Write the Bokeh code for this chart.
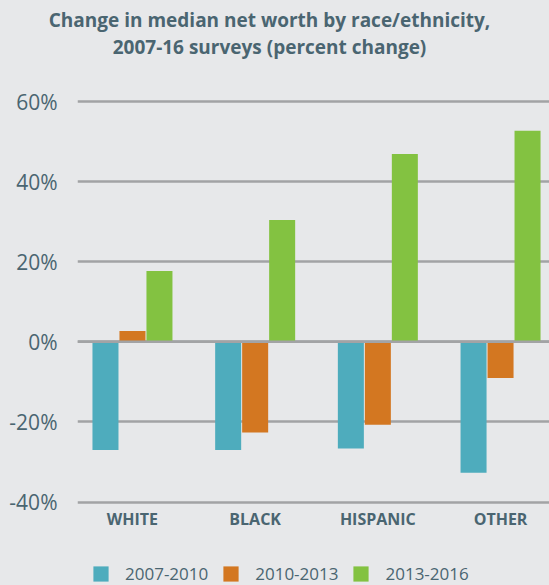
from bokeh.plotting import figure
from bokeh.layouts import column
from bokeh.models import (ColumnDataSource, Range1d, FixedTicker, PrintfTickFormatter,
                          Legend, LegendItem, Span, Div)
from bokeh.transform import dodge
from bokeh.embed import file_html
from bokeh.resources import INLINE

title_lines = ["Change in median net worth by race/ethnicity,", "2007-16 surveys (percent change)"]
categories = ["WHITE", "BLACK", "HISPANIC", "OTHER"]
series = ["2007-2010", "2010-2013", "2013-2016"]
v_2007_2010 = [-27.0, -27.0, -26.6, -32.7]
v_2010_2013 = [2.7, -22.6, -20.7, -9.0]
v_2013_2016 = [17.7, 30.4, 46.9, 52.7]
y_ticks = [-40, -20, 0, 20, 40, 60]
colors = ["#4eacbd", "#d37721", "#83c241"]

FONT = "Open Sans"
TEXT_COLOR = "#4a6571"
BG = "#e7e8ea"
GRID = "#a2a3a5"

title = Div(
    text=("<div style=\"font-family:'Open Sans';font-weight:bold;font-size:19px;"
          "line-height:26.6px;text-align:center;color:%s;padding-top:7px;"
          "padding-right:5px;width:544px;\">%s<br>%s</div>") % (TEXT_COLOR, title_lines[0], title_lines[1]),
    width=549, height=61, margin=0,
    styles={"background-color": BG},
)

xs = list(range(len(categories)))
src = ColumnDataSource(dict(x=xs, a=v_2007_2010, b=v_2010_2013, c=v_2013_2016))

p = figure(width=549, height=473, output_backend="svg", toolbar_location=None,
           x_range=Range1d(-0.448, 3.399), y_range=Range1d(-40.6, 62),
           min_border_left=77, min_border_right=0, min_border_top=32, min_border_bottom=30)
p.title = None
p.background_fill_color = None
p.border_fill_color = BG
p.outline_line_color = None
p.margin = 0

w = 0.212
off = 0.22
r1 = p.vbar(x=dodge("x", -off, range=p.x_range), top="a", width=w, source=src,
            fill_color=colors[0], line_color=None)
r2 = p.vbar(x=dodge("x", 0, range=p.x_range), top="b", width=w, source=src,
            fill_color=colors[1], line_color=None)
r3 = p.vbar(x=dodge("x", off, range=p.x_range), top="c", width=w, source=src,
            fill_color=colors[2], line_color=None)

p.add_layout(Span(location=0, dimension="width", line_color=GRID, line_width=2.5))

p.xgrid.grid_line_color = None
p.ygrid.grid_line_color = GRID
p.ygrid.grid_line_width = 2.5
p.ygrid.ticker = FixedTicker(ticks=y_ticks)

p.yaxis.ticker = FixedTicker(ticks=y_ticks)
p.yaxis.formatter = PrintfTickFormatter(format="%d%%")
p.yaxis.axis_line_color = None
p.yaxis.major_tick_line_color = None
p.yaxis.minor_tick_line_color = None
p.yaxis.major_tick_out = 0
p.yaxis.major_tick_in = 0
p.yaxis.minor_tick_out = 0
p.yaxis.major_label_text_font = FONT
p.yaxis.major_label_text_font_size = "21px"
p.yaxis.major_label_text_color = TEXT_COLOR
p.yaxis.major_label_standoff = 20

p.xaxis.ticker = FixedTicker(ticks=xs)
p.xaxis.major_label_overrides = {i: c for i, c in zip(xs, categories)}
p.xaxis.axis_line_color = None
p.xaxis.major_tick_line_color = None
p.xaxis.minor_tick_line_color = None
p.xaxis.major_tick_out = 0
p.xaxis.major_tick_in = 0
p.xaxis.minor_tick_out = 0
p.xaxis.major_label_text_font = FONT
p.xaxis.major_label_text_font_size = "16px"
p.xaxis.major_label_text_font_style = "bold"
p.xaxis.major_label_text_color = TEXT_COLOR
p.xaxis.major_label_standoff = 3

# legend strip: a separate small figure holding only the legend
lp = figure(width=549, height=51, output_backend="svg", toolbar_location=None,
            x_range=Range1d(0, 1), y_range=Range1d(0, 1),
            min_border_left=0, min_border_right=0, min_border_top=0, min_border_bottom=0,
            x_axis_type=None, y_axis_type=None)
lp.title = None
lp.background_fill_color = None
lp.border_fill_color = BG
lp.outline_line_color = None
lp.grid.grid_line_color = None
lp.margin = 0
nan = float("nan")
swatch_src = ColumnDataSource(dict(x=[nan], top=[nan]))
swatches = [lp.vbar(x="x", top="top", width=0.1, source=swatch_src, fill_color=c, line_color=None)
            for c in colors]
legend = Legend(items=[LegendItem(label=s, renderers=[r]) for s, r in zip(series, swatches)],
                orientation="horizontal", location=(14, 0),
                glyph_width=19, glyph_height=19, label_standoff=15, spacing=13,
                label_text_font=FONT, label_text_font_size="17px", label_text_color=TEXT_COLOR,
                border_line_color=None, background_fill_alpha=0, padding=0, margin=0)
lp.add_layout(legend, "center")

layout = column(title, p, lp, spacing=0, styles={"background-color": BG})
open("out.html", "w").write(file_html(layout, INLINE))
